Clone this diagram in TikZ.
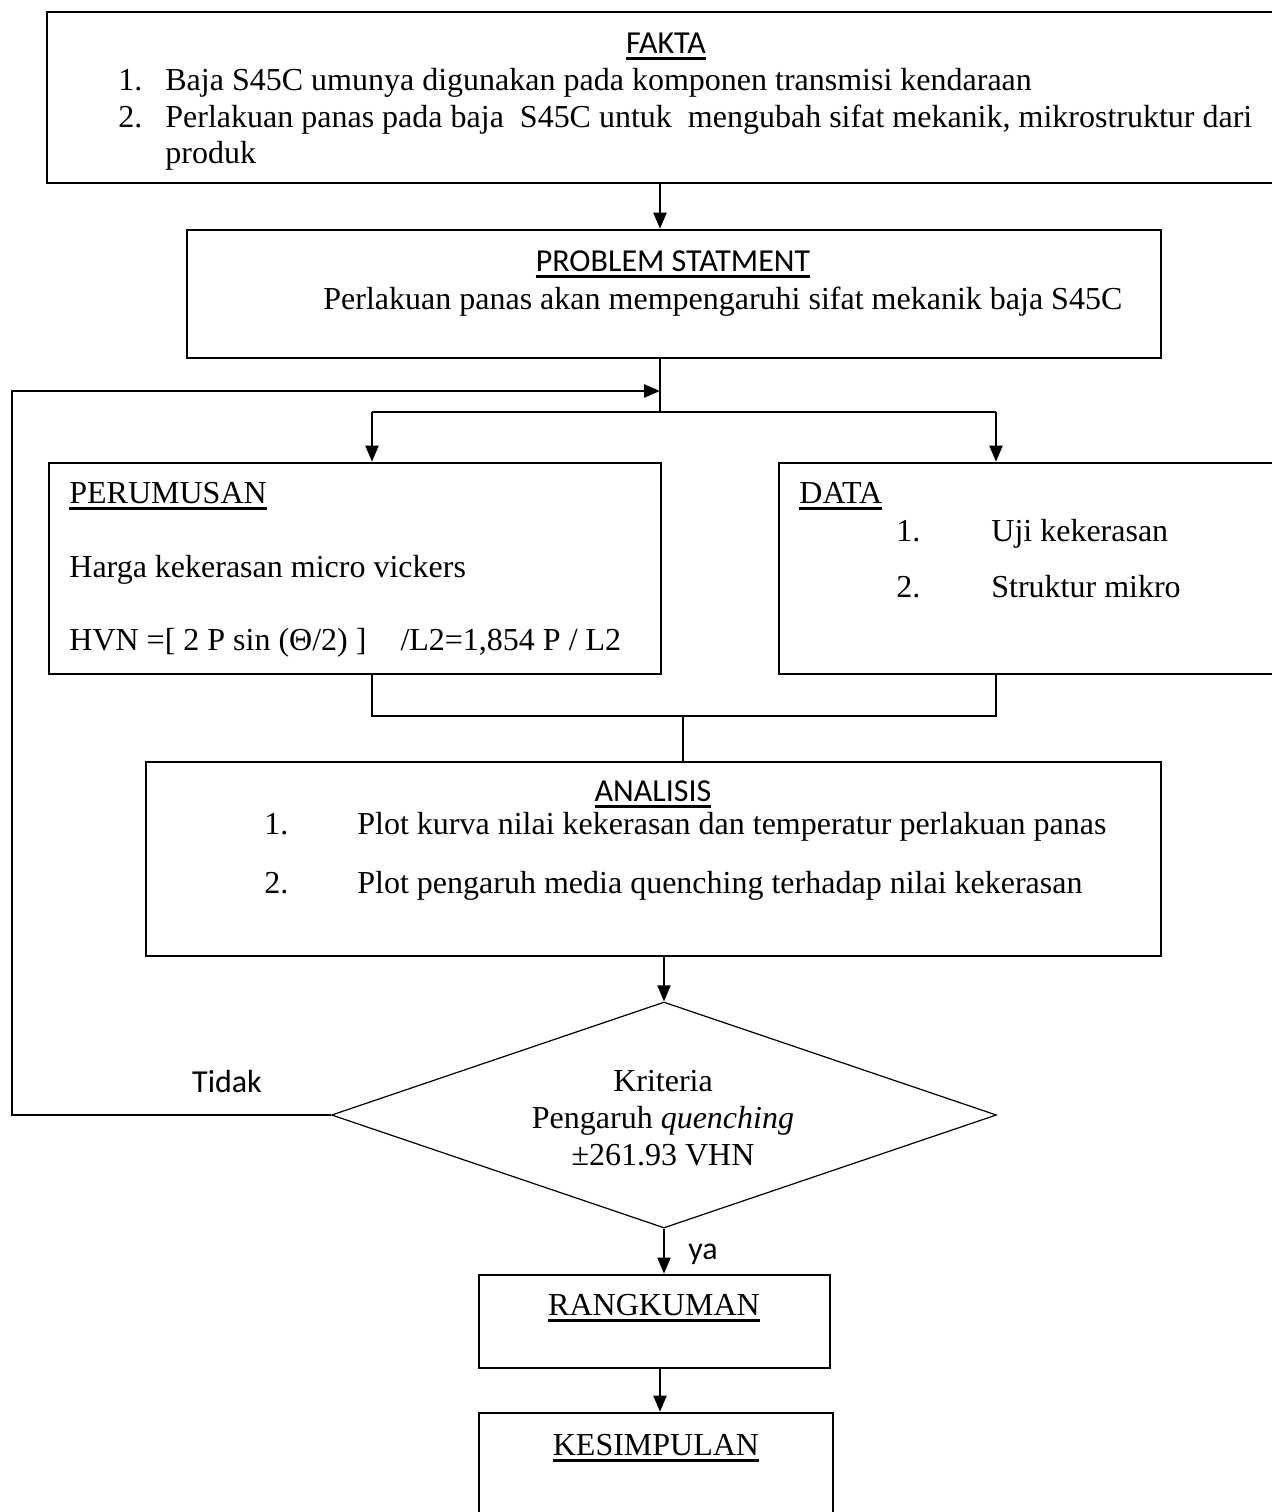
\documentclass[tikz,border=0pt]{standalone}
\usepackage{fontspec}
\setmainfont{Liberation Serif}
\newfontfamily\calibri{Carlito}
\usetikzlibrary{shapes.geometric,arrows.meta}
\newsavebox\ulbox
\newcommand\uln[1]{\sbox\ulbox{#1}\rlap{\rule[-3.4pt]{\wd\ulbox}{1.4pt}}\usebox\ulbox}
\newcommand\mkbox[5]{\node[boxs,minimum width={(#4-#2)*0.5},minimum height={(#5-#3)*0.5}] (#1) at ({(#2+#4)/2},{(#3+#5)/2}) {};}
\begin{document}
\begin{tikzpicture}[x=0.5pt,y=-0.5pt,
  boxs/.style={draw,line width=1.3pt,inner sep=0pt},
  conn/.style={line width=1pt},
  arr/.style={conn,-{Triangle[length=8pt,width=6.5pt]}},
  txt/.style={inner sep=0pt,anchor=base west,font=\fontsize{16}{19}\selectfont},
  ctxt/.style={txt,anchor=base},
  sans/.style={font=\fontsize{16}{19}\selectfont\calibri}]
\useasboundingbox (0,0) rectangle (1272,1512);
\clip (0,0) rectangle (1272,1512);
% boxes
\mkbox{fakta}{47}{12}{1300}{183}
\mkbox{prob}{187}{230}{1161}{358}
\mkbox{perum}{49}{463}{661}{674}
\mkbox{data}{779}{463}{1300}{674}
\mkbox{anal}{146}{762}{1161}{956}
\mkbox{rang}{479}{1275}{830}{1368}
\mkbox{kes}{479}{1413}{833}{1560}
\node[draw,diamond,line width=0.6pt,inner sep=0pt,minimum width=332.5pt,minimum height=113pt] (krit) at (664,1115) {};
% helper coordinates
\coordinate (c660) at (660,0);
\coordinate (c372) at (372,0);
\coordinate (c996) at (996,0);
\coordinate (split) at (660,412);
\coordinate (merge) at (683,716);
\coordinate (fb) at (12,391);
% connectors
\draw[arr] (fakta.south -| c660) -- (prob.north -| c660);
\draw[conn] (prob.south -| c660) -- (split);
\draw[conn] (split -| c372) -- (split -| c996);
\draw[arr] (split -| c372) -- (perum.north -| c372);
\draw[arr] (split -| c996) -- (data.north -| c996);
\draw[conn] (perum.south -| c372) -- (merge -| c372) -- (merge -| c996) -- (data.south -| c996);
\draw[conn] (merge) -- (anal.north -| merge);
\draw[arr] (anal.south -| krit.north) -- (krit.north);
\draw[arr] (krit.south) -- (rang.north -| krit.south);
\draw[arr] (rang.south -| c660) -- (kes.north -| c660);
\draw[arr,line width=1.3pt] (krit.west) -| (fb) -- (fb -| c660);
% texts FAKTA
\node[ctxt,sans] (tfakta) at (666,53) {\uln{FAKTA}};
\node[txt] (f1n) at (118,90) {1.};
\node[txt] (f1) at (165,90) {Baja S45C umunya digunakan pada komponen transmisi kendaraan};
\node[txt] (f2n) at (118,127) {2.};
\node[txt] (f2) at (165,127) {Perlakuan panas pada baja \ S45C untuk \ mengubah sifat mekanik, mikrostruktur dari};
\node[txt] (f3) at (165,163) {produk};
% PROBLEM
\node[ctxt,sans] (tprob) at (673,271) {\uln{PROBLEM STATMENT}};
\node[txt] (p1) at (323,309) {Perlakuan panas akan mempengaruhi sifat mekanik baja S45C};
% PERUMUSAN
\node[txt] (tperum) at (69,503) {\uln{PERUMUSAN}};
\node[txt] (pr1) at (69,577) {Harga kekerasan micro vickers};
\node[txt] (pr2) at (69,650) {HVN =[ 2 P sin (Θ/2) ]\hspace{17pt}/L2=1,854 P / L2};
% DATA
\node[txt] (tdata) at (799,503) {\uln{DATA}};
\node[txt] (d1n) at (896,541) {1.};
\node[txt] (d1) at (991,541) {Uji kekerasan};
\node[txt] (d2n) at (896,597) {2.};
\node[txt] (d2) at (991,597) {Struktur mikro};
% ANALISIS
\node[ctxt,sans] (tanal) at (653,801) {\uln{ANALISIS}};
\node[txt] (a1n) at (264,834) {1.};
\node[txt] (a1) at (357,834) {Plot kurva nilai kekerasan dan temperatur perlakuan panas};
\node[txt] (a2n) at (264,893) {2.};
\node[txt] (a2) at (357,893) {Plot pengaruh media quenching terhadap nilai kekerasan};
% decision
\node[ctxt] (k1) at (663,1091) {Kriteria};
\node[ctxt] (k2) at (663,1128) {Pengaruh \textit{quenching}};
\node[ctxt] (k3) at (663,1165) {±261.93 VHN};
\node[ctxt,sans] (tidak) at (227,1092) {Tidak};
\node[txt,sans] (ya) at (688,1259) {ya};
% final boxes
\node[ctxt] (trang) at (654,1315) {\uln{RANGKUMAN}};
\node[ctxt] (tkes) at (656,1455) {\uln{KESIMPULAN}};
\end{tikzpicture}
\end{document}
